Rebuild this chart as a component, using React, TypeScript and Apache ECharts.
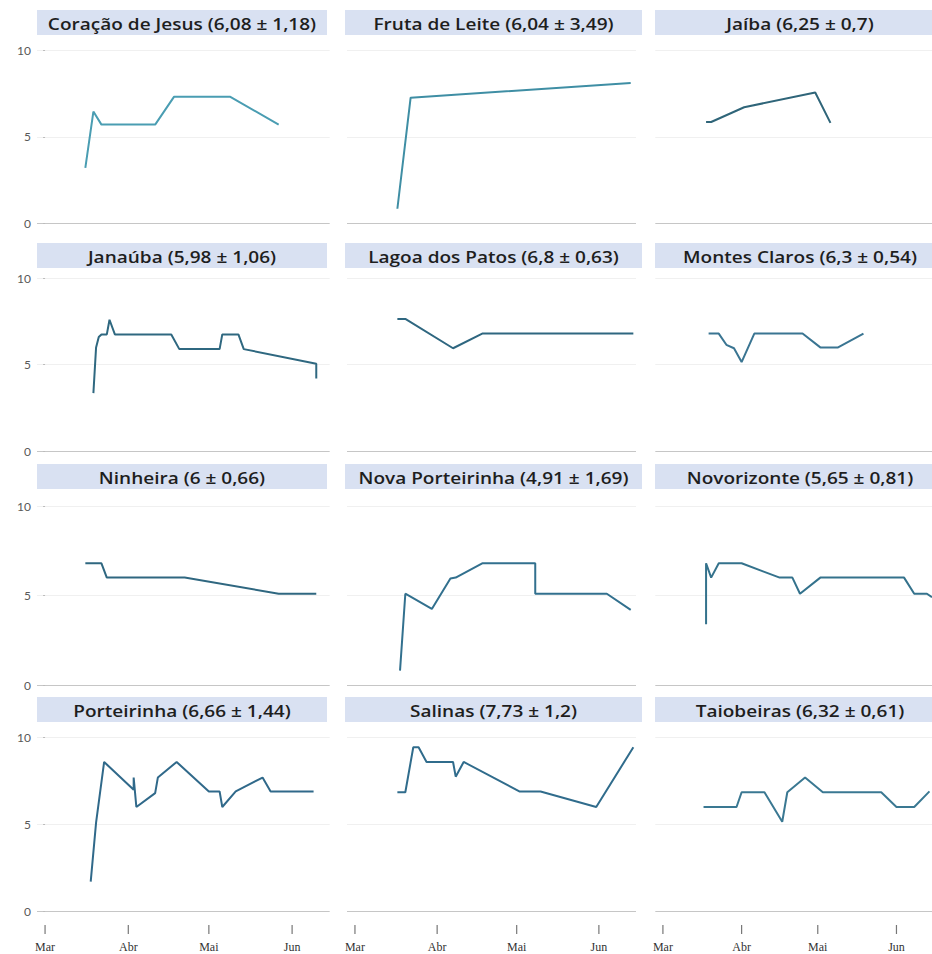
import React, { useEffect, useRef } from "react";
import * as echarts from "echarts";

const YEAR = 2021;
const monthLabels = ["Mar", "Abr", "Mai", "Jun"];
const monthStarts = ["03-01", "04-01", "05-01", "06-01"];
const yTicks = [0, 5, 10];

const titles = [
  "Coração de Jesus (6,08 ± 1,18)",
  "Fruta de Leite (6,04 ± 3,49)",
  "Jaíba (6,25 ± 0,7)",
  "Janaúba (5,98 ± 1,06)",
  "Lagoa dos Patos (6,8 ± 0,63)",
  "Montes Claros (6,3 ± 0,54)",
  "Ninheira (6 ± 0,66)",
  "Nova Porteirinha (4,91 ± 1,69)",
  "Novorizonte (5,65 ± 0,81)",
  "Porteirinha (6,66 ± 1,44)",
  "Salinas (7,73 ± 1,2)",
  "Taiobeiras (6,32 ± 0,61)",
];

const coracaoDeJesus: [string, number][] = [
  ["03-16", 3.2], ["03-19", 6.45], ["03-22", 5.7], ["04-11", 5.7],
  ["04-18", 7.3], ["05-09", 7.3], ["05-27", 5.7],
];
const frutaDeLeite: [string, number][] = [
  ["03-17", 0.85], ["03-22", 7.25], ["06-13", 8.1],
];
const jaiba: [string, number][] = [
  ["03-18", 5.85], ["03-20", 5.85], ["04-02", 6.7], ["04-30", 7.55], ["05-06", 5.8],
];
const janauba: [string, number][] = [
  ["03-19", 3.35], ["03-20", 6.0], ["03-21", 6.6], ["03-22", 6.75], ["03-24", 6.75],
  ["03-25", 7.6], ["03-27", 6.75], ["04-17", 6.75], ["04-20", 5.9], ["05-05", 5.9],
  ["05-06", 6.75], ["05-12", 6.75], ["05-14", 5.9], ["06-10", 5.05], ["06-10", 4.2],
];
const lagoaDosPatos: [string, number][] = [
  ["03-17", 7.65], ["03-20", 7.65], ["04-07", 5.95], ["04-18", 6.8], ["06-14", 6.8],
];
const montesClaros: [string, number][] = [
  ["03-19", 6.8], ["03-23", 6.8], ["03-26", 6.15], ["03-29", 5.95], ["04-01", 5.15],
  ["04-06", 6.8], ["04-25", 6.8], ["05-02", 6.0], ["05-09", 6.0], ["05-19", 6.8],
];
const ninheira: [string, number][] = [
  ["03-16", 6.8], ["03-22", 6.8], ["03-24", 6.0], ["04-22", 6.0], ["05-27", 5.1], ["06-10", 5.1],
];
const novaPorteirinha: [string, number][] = [
  ["03-18", 0.8], ["03-20", 5.1], ["03-30", 4.25], ["04-06", 5.95], ["04-08", 6.0],
  ["04-18", 6.8], ["05-08", 6.8], ["05-08", 5.1], ["06-04", 5.1], ["06-13", 4.2],
];
const novorizonte: [string, number][] = [
  ["03-18", 3.4], ["03-18", 6.8], ["03-20", 6.0], ["03-23", 6.8], ["04-01", 6.8],
  ["04-16", 6.0], ["04-21", 6.0], ["04-24", 5.1], ["05-02", 6.0], ["06-04", 6.0],
  ["06-08", 5.1], ["06-13", 5.1], ["06-15", 4.9],
];
const porteirinha: [string, number][] = [
  ["03-18", 1.7], ["03-20", 5.1], ["03-23", 8.6], ["04-03", 7.0], ["04-03", 7.7],
  ["04-04", 6.0], ["04-11", 6.8], ["04-12", 7.7], ["04-19", 8.6], ["05-01", 6.9],
  ["05-05", 6.9], ["05-06", 6.0], ["05-11", 6.9], ["05-21", 7.7], ["05-24", 6.9],
  ["06-09", 6.9],
];
const salinas: [string, number][] = [
  ["03-17", 6.85], ["03-20", 6.85], ["03-23", 9.45], ["03-25", 9.45], ["03-28", 8.6],
  ["04-07", 8.6], ["04-08", 7.75], ["04-11", 8.6], ["05-02", 6.9], ["05-10", 6.9],
  ["05-31", 6.0], ["06-14", 9.45],
];
const taiobeiras: [string, number][] = [
  ["03-17", 6.0], ["03-30", 6.0], ["04-01", 6.85], ["04-10", 6.85], ["04-17", 5.15],
  ["04-19", 6.85], ["04-26", 7.7], ["05-03", 6.85], ["05-26", 6.85], ["06-01", 6.0],
  ["06-08", 6.0], ["06-14", 6.9],
];

const panels = [
  coracaoDeJesus, frutaDeLeite, jaiba,
  janauba, lagoaDosPatos, montesClaros,
  ninheira, novaPorteirinha, novorizonte,
  porteirinha, salinas, taiobeiras,
];

const lineColors = [
  "#4a9db2", "#3f8ea4", "#2f6579",
  "#2f6880", "#2f6780", "#3a7592",
  "#2f6780", "#32708e", "#34728c",
  "#30698a", "#306c8c", "#3a7892",
];

// day index counted from 1 March
const toDay = (md: string) => {
  const [m, d] = md.split("-").map(Number);
  return Math.round(
    (Date.UTC(YEAR, m - 1, d) - Date.UTC(YEAR, 2, 1)) / 86400000
  );
};

// layout
const colLeft = [37, 347, 655.3];
const colWidth = [292.7, 289, 281];
const stripLeft = [37, 345, 655];
const stripWidth = [290, 297, 290];
const rowY10 = [50, 278.3, 506, 737.7];
const rowY0 = [223.5, 451, 685, 911];
const stripTop = [10, 243, 464, 697];
const stripH = 25;
const tickTop = 925;
const tickLen = 9;

export default function App() {
  const ref = useRef<HTMLDivElement>(null);
  useEffect(() => {
    if (!ref.current) return;
    const chart = echarts.init(ref.current, undefined, { renderer: "svg" });
    const xMin = -3;
    const xMax = toDay("06-01") + 14;
    const tickDays = monthStarts.map(toDay);

    const grids: any[] = [];
    const xAxes: any[] = [];
    const yAxes: any[] = [];
    const series: any[] = [];
    const graphics: any[] = [];

    panels.forEach((data, i) => {
      const r = Math.floor(i / 3);
      const c = i % 3;
      grids.push({
        left: colLeft[c],
        width: colWidth[c],
        top: rowY10[r],
        height: rowY0[r] - rowY10[r],
        containLabel: false,
      });
      xAxes.push({
        type: "value",
        gridIndex: i,
        min: xMin,
        max: xMax,
        axisLine: { show: false },
        splitLine: { show: false },
        axisTick: { show: false },
        axisLabel: { show: false },
      });
      yAxes.push({
        type: "value",
        gridIndex: i,
        min: 0,
        max: 10,
        interval: 5,
        axisLine: { show: false },
        axisTick: {
          show: c === 0,
          length: 2,
          lineStyle: { color: "#bbb" },
        },
        axisLabel: {
          show: c === 0,
          margin: 6,
          fontFamily: "Lato",
          fontSize: 12,
          color: "#595959",
          formatter: (v: number) => (yTicks.includes(v) ? String(v) : ""),
        },
        splitLine: {
          show: true,
          lineStyle: { color: ["#c6c6c6", "#f0f0f0", "#f0f0f0"], width: 1 },
        },
      });
      series.push({
        type: "line",
        xAxisIndex: i,
        yAxisIndex: i,
        data: data.map(([d, v]) => [toDay(d), v]),
        showSymbol: false,
        symbol: "none",
        clip: true,
        lineStyle: { color: lineColors[i], width: 2 },
      });
      graphics.push({
        type: "rect",
        shape: { x: stripLeft[c], y: stripTop[r], width: stripWidth[c], height: stripH },
        style: { fill: "#d9e1f2" },
        z: 10,
      });
      graphics.push({
        type: "text",
        x: stripLeft[c] + stripWidth[c] / 2,
        y: stripTop[r] + stripH / 2 + 0.5,
        scaleX: 1.12,
        style: {
          text: titles[i],
          fill: "#1e1e1e",
          font: "600 17px 'Open Sans'",
          textAlign: "center",
          textVerticalAlign: "middle",
        },
        z: 11,
      });
    });

    // month ticks and labels under the bottom row
    for (let c = 0; c < 3; c++) {
      const gi = grids.length;
      grids.push({
        left: colLeft[c],
        width: colWidth[c],
        top: tickTop,
        height: tickLen,
        containLabel: false,
      });
      xAxes.push({
        type: "value",
        gridIndex: gi,
        min: xMin,
        max: xMax,
        position: "bottom",
        axisLine: { show: false },
        splitLine: { show: false },
        axisTick: { show: false },
        axisLabel: {
          show: true,
          customValues: tickDays,
          margin: 7,
          fontFamily: "Liberation Serif",
          fontSize: 12,
          color: "#333",
          formatter: (v: number) => {
            const k = tickDays.indexOf(v);
            return k >= 0 ? monthLabels[k] : "";
          },
        },
      });
      yAxes.push({
        type: "value",
        gridIndex: gi,
        min: 0,
        max: 1,
        show: false,
      });
      series.push({
        type: "scatter",
        xAxisIndex: gi,
        yAxisIndex: gi,
        data: tickDays.map((d) => [d, 0.5]),
        symbol: "rect",
        symbolSize: [1.2, tickLen],
        itemStyle: { color: "#555" },
        silent: true,
      });
    }

    chart.setOption({
      animation: false,
      backgroundColor: "#ffffff",
      grid: grids,
      xAxis: xAxes,
      yAxis: yAxes,
      series,
      graphic: graphics,
    });
    return () => chart.dispose();
  }, []);
  return (
    <div
      ref={ref}
      style={{ position: "fixed", left: 0, top: 0, width: 932, height: 954, background: "#fff" }}
    />
  );
}
